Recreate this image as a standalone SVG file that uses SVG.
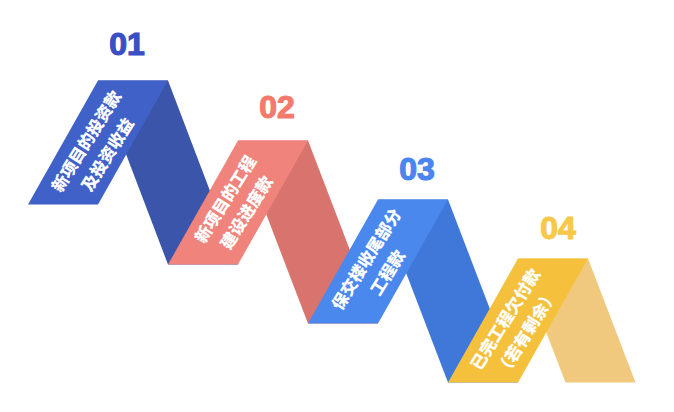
<svg xmlns="http://www.w3.org/2000/svg" width="674" height="412" viewBox="0 0 674 412">
<style>
.num{font-family:"Liberation Sans",Arial,sans-serif;font-weight:bold;font-size:32px;text-anchor:middle;stroke-width:1.2}
.lbl{font-family:"Noto Sans CJK SC","Noto Sans",sans-serif;font-weight:900;font-size:16.5px;fill:#ffffff;text-anchor:middle}
</style>
<rect width="674" height="412" fill="#ffffff"/>
<g id="node-01">
<polygon points="98,80.5 168,80.5 238,264.5 168,264.5" fill="#3A55AA"/>
<polygon points="98,80.5 168,80.5 98,204.5 28,204.5" fill="#4061C7"/>
<text class="num" x="127" y="55" fill="#3B4EC3" stroke="#3B4EC3">01</text>
<g transform="translate(97,148) rotate(-58)">
<text class="lbl" x="0" y="-6.5">新项目的投资款</text>
<text class="lbl" x="0" y="18.5">及投资收益</text>
</g>
</g>
<g id="node-02">
<polygon points="238,140.5 308,140.5 378,323.5 308,323.5" fill="#D8736E"/>
<polygon points="238,140.5 308,140.5 238,264.5 168,264.5" fill="#F0837C"/>
<text class="num" x="277" y="118" fill="#F27B6E" stroke="#F27B6E">02</text>
<g transform="translate(236,206) rotate(-58)">
<text class="lbl" x="0" y="-6.5">新项目的工程</text>
<text class="lbl" x="0" y="18.5">建设进度款</text>
</g>
</g>
<g id="node-03">
<polygon points="378,199.5 448,199.5 518,382.5 448,382.5" fill="#3F78D8"/>
<polygon points="378,199.5 448,199.5 378,323.5 308,323.5" fill="#4A88EE"/>
<text class="num" x="417" y="180" fill="#4A85F0" stroke="#4A85F0">03</text>
<g transform="translate(377,266) rotate(-58)">
<text class="lbl" x="0" y="-6.5">保交楼收尾部分</text>
<text class="lbl" x="0" y="18.5">工程款</text>
</g>
</g>
<g id="node-04">
<polygon points="518,258.5 588,258.5 635.5,382.5 565.5,382.5" fill="#F0C97E"/>
<polygon points="518,258.5 588,258.5 518,382.5 448,382.5" fill="#F5C13D"/>
<text class="num" x="558" y="239" fill="#F7C84C" stroke="#F7C84C">04</text>
<g transform="translate(516,326) rotate(-58)">
<text class="lbl" x="0" y="-6.5">已完工程欠付款</text>
<text class="lbl" x="0" y="18.5">（若有剩余）</text>
</g>
</g>
</svg>
